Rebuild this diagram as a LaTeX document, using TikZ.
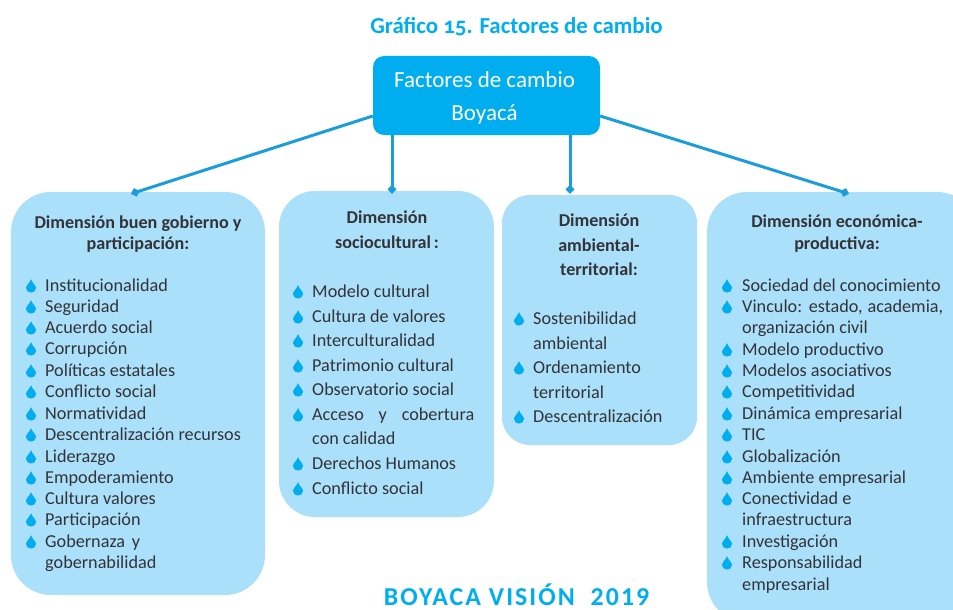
\documentclass[tikz,border=0pt]{standalone}
\usepackage{xcolor}
\usepackage{fontspec}
\setmainfont{Carlito}
\usetikzlibrary{arrows.meta}

\definecolor{toptone}{HTML}{00AEEF}
\definecolor{boxtone}{HTML}{ABE0FA}
\definecolor{linetone}{HTML}{1B9DD9}
\definecolor{inktone}{HTML}{333338}

\tikzset{
	dimbox/.style={rectangle,fill=boxtone,rounded corners=#1,inner sep=0pt},
	heading/.style={anchor=base,inner sep=0pt,text=inktone,font=\fontsize{18.1}{18}\selectfont\bfseries},
	itemtext/.style={anchor=base west,inner sep=0pt,text=inktone,font=\fontsize{18.2}{18}\selectfont},
	link/.style={line width=3pt,linetone,-{Diamond[length=9pt,width=9pt]}},
	droplet/.pic={
		\fill[toptone] (0,-7) .. controls (1,-3) and (5,-1) .. (5,2) .. controls (5,8) and (-5,8) .. (-5,2) .. controls (-5,-1) and (-1,-3) .. (0,-7) -- cycle;
	}
}

\begin{document}
\begin{tikzpicture}[x=1pt,y=-1pt]
	\useasboundingbox (0,0) rectangle (953,610);
	\clip (0,0) rectangle (953,610);

	% boxes
	\node[dimbox=40pt,minimum width=254pt,minimum height=403pt] (gobierno) at (138,393.5) {};
	\node[dimbox=36pt,minimum width=215pt,minimum height=326pt] (socio) at (386.5,354) {};
	\node[dimbox=28pt,minimum width=195pt,minimum height=250pt] (ambiente) at (599.5,320) {};
	\node[dimbox=40pt,minimum width=270pt,minimum height=430pt] (economia) at (842,407) {};
	\node[rectangle,fill=toptone,rounded corners=11pt,minimum width=227pt,minimum height=79pt,inner sep=0pt] (factores) at (486.5,95.5) {};

	% connectors
	\draw[link] ([yshift=-20.5pt]factores.west) -- ([xshift=-7pt,yshift=-2pt]gobierno.north);
	\draw[link] ([xshift=-94.5pt]factores.south) -- ([xshift=5.5pt,yshift=-3pt]socio.north);
	\draw[link] ([xshift=83.5pt]factores.south) -- ([xshift=-29.5pt,yshift=1pt]ambiente.north);
	\draw[link] ([yshift=-20.5pt]factores.east) -- ([xshift=7pt,yshift=-2pt]economia.north);

	% titles
	\node[anchor=base,inner sep=0pt,text=toptone,font=\fontsize{22.9}{23}\selectfont\bfseries\addfontfeature{Numbers=OldStyle}] (titulo) at (516.5,33.5) {Gráfico 15. Factores de cambio};
	\node[anchor=base,inner sep=0pt,text=toptone,font=\fontsize{25.8}{26}\selectfont\bfseries\addfontfeature{LetterSpace=8}] (vision) at (516.5,605) {BOYACA VISIÓN\ \ 2019};
	\node[anchor=base,inner sep=0pt,text=white,font=\fontsize{23}{24}\selectfont] (factuno) at (484.5,88) {Factores de cambio};
	\node[anchor=base,inner sep=0pt,text=white,font=\fontsize{23}{24}\selectfont] (factdos) at (484.5,120) {Boyacá};

	% headings
	\node[heading] (gobuno) at (138,228) {Dimensión buen gobierno y};
	\node[heading] (gobdos) at (138,249) {participación:};
	\node[heading] (socuno) at (387,223) {Dimensión};
	\node[heading] (socdos) at (387,248) {sociocultural\,:};
	\node[heading] (ambuno) at (599,226) {Dimensión};
	\node[heading] (ambdos) at (599,251) {ambiental-};
	\node[heading] (ambtres) at (599,275) {territorial:};
	\node[heading] (ecouno) at (837,227) {Dimensión económica-};
	\node[heading] (ecodos) at (837,249) {productiva:};

	% first box
	\foreach \y/\txt in {291/Institucionalidad,312/Seguridad,333/Acuerdo social,354/Corrupción,376/Políticas estatales,397/Conflicto social,419/Normatividad,440/Descentralización recursos,462/Liderazgo,483/Empoderamiento,504/Cultura valores,525/Participación,547/{\makebox[95pt][s]{Gobernaza y}}}{
		\pic at (31,\y-5) {droplet};
		\node[itemtext] (gob\y) at (45,\y) {\txt};
	}
	\node[itemtext] (gobfin) at (45,568) {gobernabilidad};

	% second box
	\foreach \y/\txt in {297/Modelo cultural,322/Cultura de valores,346/Interculturalidad,371/Patrimonio cultural,395/Observatorio social,420/{\makebox[162pt][s]{Acceso y cobertura}},469/Derechos Humanos,494/Conflicto social}{
		\pic at (298,\y-5) {droplet};
		\node[itemtext] (soc\y) at (312,\y) {\txt};
	}
	\node[itemtext] (socfin) at (312,444) {con calidad};

	% third box
	\foreach \y/\txt in {324/Sostenibilidad,373/Ordenamiento,422/Descentralización}{
		\pic at (519,\y-5) {droplet};
		\node[itemtext] (amb\y) at (533,\y) {\txt};
	}
	\node[itemtext] (ambfina) at (533,349) {ambiental};
	\node[itemtext] (ambfinb) at (533,398) {territorial};

	% fourth box
	\foreach \y/\txt in {291/Sociedad del conocimiento,312/{\makebox[201pt][s]{Vinculo: estado, academia,}},355/Modelo productivo,376/Modelos asociativos,397/Competitividad,419/Dinámica empresarial,440/TIC,462/Globalización,483/Ambiente empresarial,504/Conectividad e,547/Investigación,568/Responsabilidad}{
		\pic at (727,\y-5) {droplet};
		\node[itemtext] (eco\y) at (742,\y) {\txt};
	}
	\node[itemtext] (ecofina) at (742,333) {organización civil};
	\node[itemtext] (ecofinb) at (742,525) {infraestructura};
	\node[itemtext] (ecofinc) at (742,590) {empresarial};
\end{tikzpicture}
\end{document}
